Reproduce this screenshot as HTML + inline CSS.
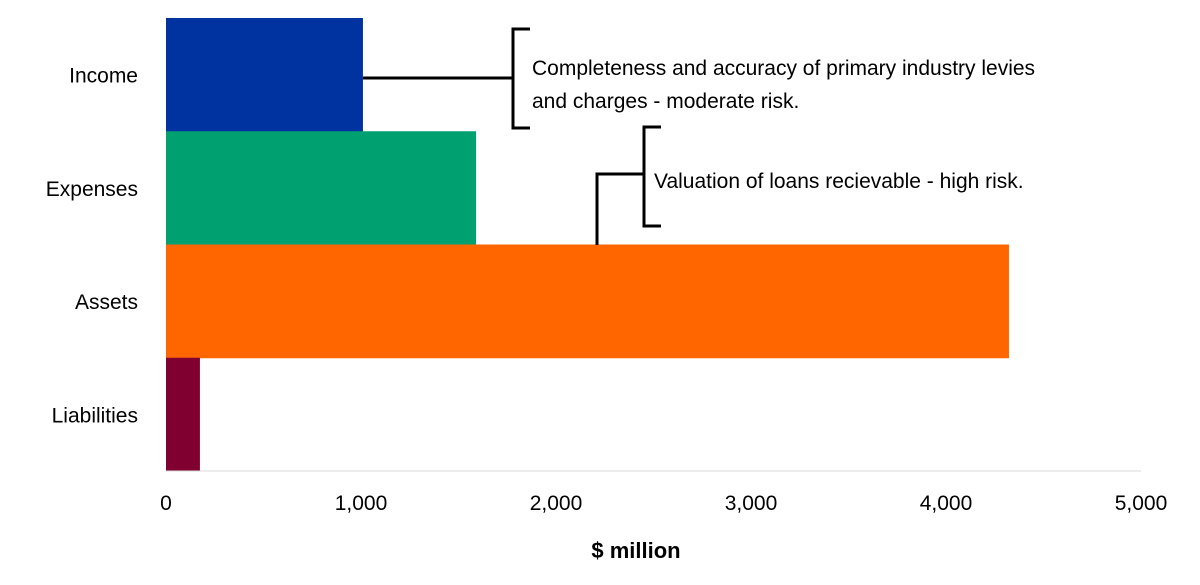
<!DOCTYPE html>
<html><head><meta charset="utf-8"><style>
body{margin:0;background:#fff;font-family:"Liberation Sans",Arial,sans-serif}
svg text{font-family:"Liberation Sans",Arial,sans-serif}
</style></head><body>
<svg width="1200" height="580" viewBox="0 0 1200 580">
<g id="bars"></g>
<line x1="166" y1="471" x2="1141" y2="471" stroke="#d9d9d9" stroke-width="1"/>
<g id="xt"></g>
<g id="yl"></g>
<text x="636" y="558" font-size="22" font-weight="bold" text-anchor="middle">$ million</text>
<g fill="none" stroke="#000" stroke-width="3">
<line x1="363" y1="78" x2="513" y2="78"/>
<path d="M530 29 H513 V128 H530"/>
</g>
<text font-size="21"><tspan x="532" y="75">Completeness and accuracy of primary industry levies</tspan><tspan x="532" y="108">and charges - moderate risk.</tspan></text>
<g fill="none" stroke="#000" stroke-width="3">
<path d="M597 245 V174 H644"/>
<path d="M661 127 H644 V226 H661"/>
</g>
<text x="654" y="188" font-size="21">Valuation of loans recievable - high risk.</text>
</svg>
<script>
const categories=["Income","Expenses","Assets","Liabilities"];
const values=[1010,1590,4323,174];
const colors=["#0033a0","#00a070","#ff6600","#800030"];
const ticks=[0,1000,2000,3000,4000,5000];
const x0=166,xMax=5000,w=975,top0=18,band=113.25;
const xs=v=>x0+v/xMax*w;
const ns="http://www.w3.org/2000/svg";
const bars=document.getElementById('bars'),xt=document.getElementById('xt'),yl=document.getElementById('yl');
categories.forEach((c,i)=>{
 const r=document.createElementNS(ns,'rect');
 r.setAttribute('x',x0);r.setAttribute('y',top0+i*band);
 r.setAttribute('width',xs(values[i])-x0);r.setAttribute('height',band+0.5);
 r.setAttribute('fill',colors[i]);
 
 
 bars.appendChild(r);
 const t=document.createElementNS(ns,'text');
 t.setAttribute('x',138);t.setAttribute('y',top0+i*band+band/2+8);
 t.setAttribute('text-anchor','end');t.setAttribute('font-size','21');
 t.textContent=c;
 
 
 yl.appendChild(t);
});
ticks.forEach(v=>{
 const t=document.createElementNS(ns,'text');
 t.setAttribute('x',xs(v));t.setAttribute('y',510);
 t.setAttribute('text-anchor','middle');t.setAttribute('font-size','21');
 t.textContent=v.toLocaleString('en-US');
 
 
 xt.appendChild(t);
});
</script>
</body></html>
